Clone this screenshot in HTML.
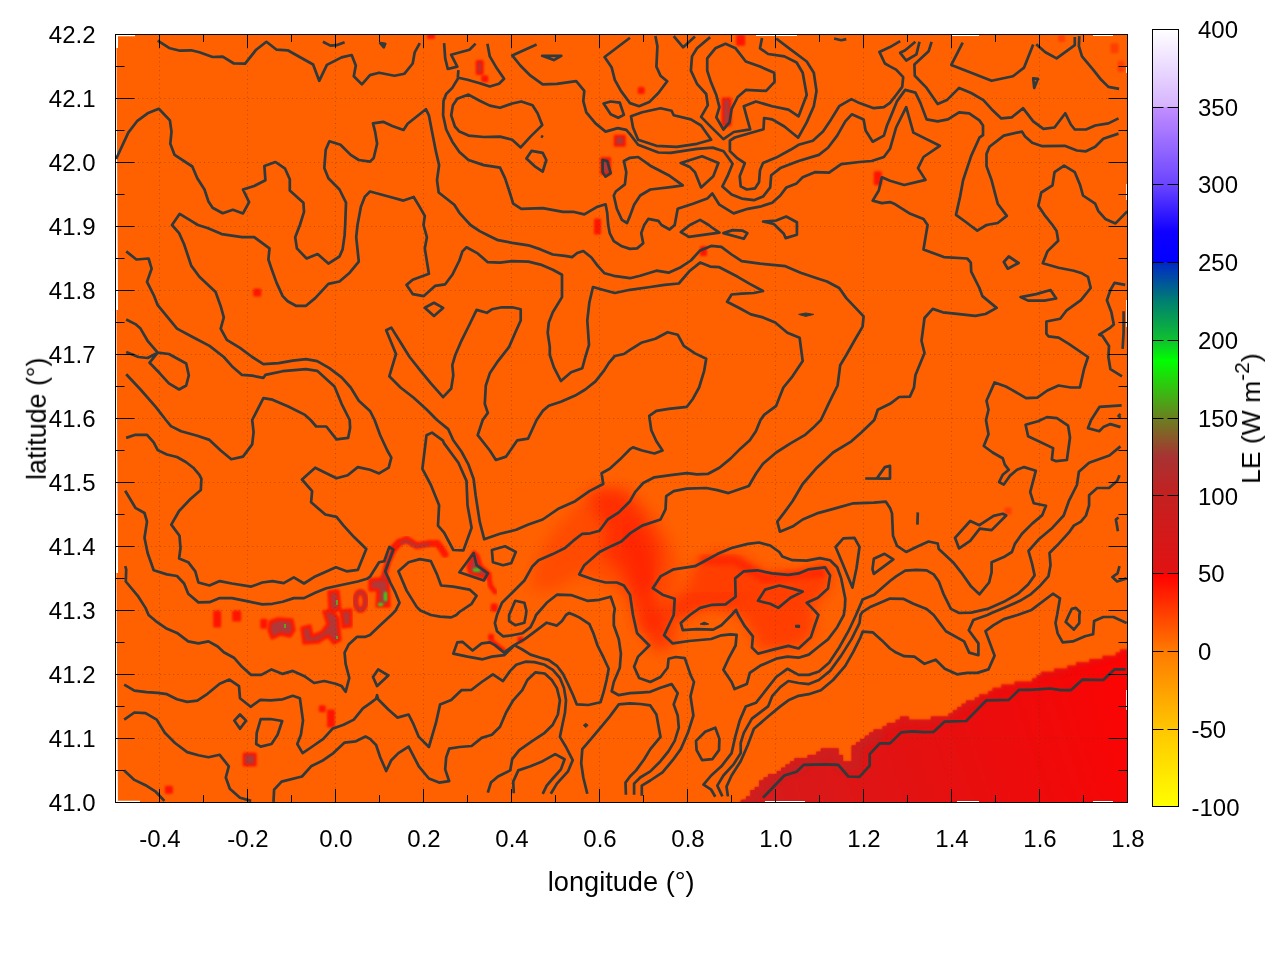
<!DOCTYPE html>
<html lang="en"><head><meta charset="utf-8"><title>LE (W m-2) map</title>
<style>html,body{margin:0;padding:0;background:#fff;width:1280px;height:960px;overflow:hidden}svg{display:block}</style>
</head><body>
<svg width="1280" height="960" viewBox="0 0 1280 960">
<defs>
<linearGradient id="cb" x1="0" y1="1" x2="0" y2="0">
<stop offset="0" stop-color="#ffff00"/>
<stop offset="0.1" stop-color="#ffc600"/>
<stop offset="0.2" stop-color="#ff7a00"/>
<stop offset="0.3" stop-color="#ff0000"/>
<stop offset="0.301" stop-color="#e21212"/>
<stop offset="0.4" stop-color="#c42020"/>
<stop offset="0.45" stop-color="#a83232"/>
<stop offset="0.5" stop-color="#6a8020"/>
<stop offset="0.574" stop-color="#00ff00"/>
<stop offset="0.6" stop-color="#10c030"/>
<stop offset="0.65" stop-color="#008070"/>
<stop offset="0.7" stop-color="#0028c8"/>
<stop offset="0.701" stop-color="#0000ff"/>
<stop offset="0.74" stop-color="#1000ff"/>
<stop offset="0.8" stop-color="#6a44ff"/>
<stop offset="0.9" stop-color="#c28eff"/>
<stop offset="0.901" stop-color="#d6b4ff"/>
<stop offset="1" stop-color="#ffffff"/>
</linearGradient>
<clipPath id="pc"><rect x="116" y="35" width="1011" height="767"/></clipPath>
</defs>
<rect width="1280" height="960" fill="#fff"/>
<g clip-path="url(#pc)">
<rect x="116" y="35" width="1011" height="767" fill="#ff6100"/>
<defs>
<filter color-interpolation-filters="sRGB" id="b1" x="-20%" y="-20%" width="140%" height="140%"><feGaussianBlur stdDeviation="1.1"/></filter>
<filter color-interpolation-filters="sRGB" id="b2" x="-30%" y="-30%" width="160%" height="160%"><feGaussianBlur stdDeviation="2.5"/></filter>
<filter color-interpolation-filters="sRGB" id="b6" x="-30%" y="-30%" width="160%" height="160%"><feGaussianBlur stdDeviation="7"/></filter>
<filter color-interpolation-filters="sRGB" id="b12" x="-40%" y="-40%" width="180%" height="180%"><feGaussianBlur stdDeviation="12"/></filter>
<linearGradient id="rg" gradientUnits="userSpaceOnUse" x1="780" y1="800" x2="1120" y2="690">
<stop offset="0" stop-color="#d81a1a"/><stop offset="0.45" stop-color="#e61010"/><stop offset="0.8" stop-color="#f20909"/><stop offset="1" stop-color="#fb0404"/>
</linearGradient>
<clipPath id="rc"><polygon points="741.7,799.8 746.1,799.8 746.1,796.6 750.5,796.6 750.5,790.2 754.9,790.2 754.9,787.0 759.3,787.0 759.3,780.6 763.7,780.6 763.7,777.4 768.1,777.4 768.1,774.2 772.5,774.2 772.5,774.2 776.9,774.2 776.9,771.0 781.3,771.0 781.3,767.8 785.7,767.8 785.7,764.6 790.1,764.6 790.1,761.4 794.5,761.4 794.5,758.2 798.9,758.2 798.9,758.2 803.3,758.2 803.3,758.2 807.7,758.2 807.7,755.0 812.1,755.0 812.1,755.0 816.5,755.0 816.5,751.8 820.9,751.8 820.9,748.6 825.3,748.6 825.3,748.6 829.7,748.6 829.7,748.6 834.1,748.6 834.1,748.6 838.5,748.6 838.5,755.0 842.9,755.0 842.9,761.4 847.3,761.4 847.3,761.4 851.7,761.4 851.7,745.4 856.1,745.4 856.1,742.2 860.5,742.2 860.5,739.0 864.9,739.0 864.9,735.8 869.3,735.8 869.3,732.6 873.7,732.6 873.7,729.4 878.1,729.4 878.1,729.4 882.5,729.4 882.5,726.2 886.9,726.2 886.9,723.0 891.3,723.0 891.3,723.0 895.7,723.0 895.7,719.8 900.1,719.8 900.1,716.6 904.5,716.6 904.5,716.6 908.9,716.6 908.9,719.8 913.3,719.8 913.3,719.8 917.7,719.8 917.7,719.8 922.1,719.8 922.1,719.8 926.5,719.8 926.5,719.8 930.9,719.8 930.9,716.6 935.3,716.6 935.3,716.6 939.7,716.6 939.7,716.6 944.1,716.6 944.1,716.6 948.5,716.6 948.5,713.4 952.9,713.4 952.9,710.2 957.3,710.2 957.3,707.0 961.7,707.0 961.7,703.8 966.1,703.8 966.1,700.6 970.5,700.6 970.5,700.6 974.9,700.6 974.9,697.4 979.3,697.4 979.3,694.2 983.7,694.2 983.7,694.2 988.1,694.2 988.1,691.0 992.5,691.0 992.5,687.8 996.9,687.8 996.9,687.8 1001.3,687.8 1001.3,684.6 1005.7,684.6 1005.7,684.6 1010.1,684.6 1010.1,684.6 1014.5,684.6 1014.5,681.4 1018.9,681.4 1018.9,681.4 1023.3,681.4 1023.3,681.4 1027.7,681.4 1027.7,681.4 1032.1,681.4 1032.1,678.2 1036.5,678.2 1036.5,675.0 1040.9,675.0 1040.9,671.8 1045.3,671.8 1045.3,671.8 1049.7,671.8 1049.7,671.8 1054.1,671.8 1054.1,668.6 1058.5,668.6 1058.5,668.6 1062.9,668.6 1062.9,668.6 1067.3,668.6 1067.3,665.4 1071.7,665.4 1071.7,665.4 1076.1,665.4 1076.1,662.2 1080.5,662.2 1080.5,662.2 1084.9,662.2 1084.9,662.2 1089.3,662.2 1089.3,659.0 1093.7,659.0 1093.7,659.0 1098.1,659.0 1098.1,659.0 1102.5,659.0 1102.5,655.8 1106.9,655.8 1106.9,655.8 1111.3,655.8 1111.3,655.8 1115.7,655.8 1115.7,652.6 1120.1,652.6 1120.1,649.4 1124.5,649.4 1124.5,649.4 1128.9,649.4 1128.9,646.2 1130.0,646.2 1130.0,810.0 735.0,810.0"/></clipPath>
</defs>
<polygon points="535.0,565.0 550.0,535.0 590.0,490.0 627.5,487.5 655.0,515.0 675.0,550.0 680.0,580.0 670.0,600.0 680.0,640.0 660.0,655.0 637.5,630.0 625.0,595.0 602.5,580.0 580.0,575.0 555.0,590.0 530.0,590.0" fill="#ff2a00" opacity="0.38" filter="url(#b6)"/>
<polygon points="592.5,490.0 620.0,490.0 640.0,512.5 660.0,545.0 660.0,570.0 652.5,590.0 660.0,615.0 670.0,640.0 655.0,647.5 640.0,615.0 630.0,590.0 620.0,570.0 602.5,552.5 607.5,527.5 592.5,510.0" fill="#ff1c00" opacity="0.6" filter="url(#b6)"/>
<polygon points="693.8,563.0 718.8,550.6 743.8,556.9 765.6,572.5 796.9,575.6 821.9,563.0 834.4,563.0 828.0,591.0 812.5,607.0 815.6,628.8 800.0,647.5 759.4,650.6 746.9,622.5 731.2,610.0 706.2,607.0 675.0,622.5 668.8,603.8 687.5,585.0" fill="#ff2600" opacity="0.58" filter="url(#b6)"/>
<path d="M628 530L640 560L648 590" stroke="#ff1400" stroke-width="12" fill="none" opacity="0.45" filter="url(#b6)"/>
<path d="M700 560L735 560L765 578L825 572" stroke="#ff1000" stroke-width="10" fill="none" opacity="0.5" filter="url(#b2)"/>
<path d="M640 625L700 600L740 600" stroke="#ff1a00" stroke-width="12" fill="none" opacity="0.4" filter="url(#b6)"/>
<polygon points="741.7,799.8 746.1,799.8 746.1,796.6 750.5,796.6 750.5,790.2 754.9,790.2 754.9,787.0 759.3,787.0 759.3,780.6 763.7,780.6 763.7,777.4 768.1,777.4 768.1,774.2 772.5,774.2 772.5,774.2 776.9,774.2 776.9,771.0 781.3,771.0 781.3,767.8 785.7,767.8 785.7,764.6 790.1,764.6 790.1,761.4 794.5,761.4 794.5,758.2 798.9,758.2 798.9,758.2 803.3,758.2 803.3,758.2 807.7,758.2 807.7,755.0 812.1,755.0 812.1,755.0 816.5,755.0 816.5,751.8 820.9,751.8 820.9,748.6 825.3,748.6 825.3,748.6 829.7,748.6 829.7,748.6 834.1,748.6 834.1,748.6 838.5,748.6 838.5,755.0 842.9,755.0 842.9,761.4 847.3,761.4 847.3,761.4 851.7,761.4 851.7,745.4 856.1,745.4 856.1,742.2 860.5,742.2 860.5,739.0 864.9,739.0 864.9,735.8 869.3,735.8 869.3,732.6 873.7,732.6 873.7,729.4 878.1,729.4 878.1,729.4 882.5,729.4 882.5,726.2 886.9,726.2 886.9,723.0 891.3,723.0 891.3,723.0 895.7,723.0 895.7,719.8 900.1,719.8 900.1,716.6 904.5,716.6 904.5,716.6 908.9,716.6 908.9,719.8 913.3,719.8 913.3,719.8 917.7,719.8 917.7,719.8 922.1,719.8 922.1,719.8 926.5,719.8 926.5,719.8 930.9,719.8 930.9,716.6 935.3,716.6 935.3,716.6 939.7,716.6 939.7,716.6 944.1,716.6 944.1,716.6 948.5,716.6 948.5,713.4 952.9,713.4 952.9,710.2 957.3,710.2 957.3,707.0 961.7,707.0 961.7,703.8 966.1,703.8 966.1,700.6 970.5,700.6 970.5,700.6 974.9,700.6 974.9,697.4 979.3,697.4 979.3,694.2 983.7,694.2 983.7,694.2 988.1,694.2 988.1,691.0 992.5,691.0 992.5,687.8 996.9,687.8 996.9,687.8 1001.3,687.8 1001.3,684.6 1005.7,684.6 1005.7,684.6 1010.1,684.6 1010.1,684.6 1014.5,684.6 1014.5,681.4 1018.9,681.4 1018.9,681.4 1023.3,681.4 1023.3,681.4 1027.7,681.4 1027.7,681.4 1032.1,681.4 1032.1,678.2 1036.5,678.2 1036.5,675.0 1040.9,675.0 1040.9,671.8 1045.3,671.8 1045.3,671.8 1049.7,671.8 1049.7,671.8 1054.1,671.8 1054.1,668.6 1058.5,668.6 1058.5,668.6 1062.9,668.6 1062.9,668.6 1067.3,668.6 1067.3,665.4 1071.7,665.4 1071.7,665.4 1076.1,665.4 1076.1,662.2 1080.5,662.2 1080.5,662.2 1084.9,662.2 1084.9,662.2 1089.3,662.2 1089.3,659.0 1093.7,659.0 1093.7,659.0 1098.1,659.0 1098.1,659.0 1102.5,659.0 1102.5,655.8 1106.9,655.8 1106.9,655.8 1111.3,655.8 1111.3,655.8 1115.7,655.8 1115.7,652.6 1120.1,652.6 1120.1,649.4 1124.5,649.4 1124.5,649.4 1128.9,649.4 1128.9,646.2 1130.0,646.2 1130.0,810.0 735.0,810.0" fill="url(#rg)" filter="url(#b1)"/>
<g clip-path="url(#rc)"><path d="M741.7 803.0L751.9 791.7L760.0 782.6L772.2 774.5L784.4 766.3L792.5 761.3L794.5 755.2L798.6 761.3L804.7 757.2L823.0 750.0L829.0 748.0L837.2 750.0L843.3 761.3L851.4 761.3L853.4 745.0L863.6 736.9L873.7 731.8L890.0 724.0L902.2 717.6L920.5 719.6L946.9 716.6L957.0 707.4L979.4 696.3L1001.7 685.0L1032.2 680.0L1038.3 673.9L1062.7 668.8L1072.8 664.8L1097.2 658.7L1113.4 654.6L1130.0 647.0" stroke="#c02828" stroke-width="18" fill="none" opacity="0.8" filter="url(#b2)" stroke-dasharray="190 2000"/>
<path d="M741.7 803.0L751.9 791.7L760.0 782.6L772.2 774.5L784.4 766.3L792.5 761.3L794.5 755.2L798.6 761.3L804.7 757.2L823.0 750.0L829.0 748.0L837.2 750.0L843.3 761.3L851.4 761.3L853.4 745.0L863.6 736.9L873.7 731.8L890.0 724.0L902.2 717.6L920.5 719.6L946.9 716.6L957.0 707.4L979.4 696.3L1001.7 685.0L1032.2 680.0L1038.3 673.9L1062.7 668.8L1072.8 664.8L1097.2 658.7L1113.4 654.6L1130.0 647.0" stroke="#d41c1c" stroke-width="14" fill="none" opacity="0.55" filter="url(#b2)" stroke-dasharray="300 2000"/>
<path d="M741.7 803.0L751.9 791.7L760.0 782.6L772.2 774.5L784.4 766.3L792.5 761.3L794.5 755.2L798.6 761.3L804.7 757.2L823.0 750.0L829.0 748.0L837.2 750.0L843.3 761.3L851.4 761.3L853.4 745.0L863.6 736.9L873.7 731.8L890.0 724.0L902.2 717.6L920.5 719.6L946.9 716.6L957.0 707.4L979.4 696.3L1001.7 685.0L1032.2 680.0L1038.3 673.9L1062.7 668.8L1072.8 664.8L1097.2 658.7L1113.4 654.6L1130.0 647.0" stroke="#dc1818" stroke-width="7" fill="none" opacity="0.5" filter="url(#b2)"/></g>
<rect x="475.7" y="60.1" width="8.0" height="15.0" rx="1.5" fill="#ff1400" filter="url(#b1)"/>
<rect x="478.2" y="62.6" width="3.0" height="10.0" rx="1" fill="#a83c3c" filter="url(#b1)"/>
<rect x="481.3" y="75.3" width="7.0" height="7.0" rx="1.5" fill="#ff1400" filter="url(#b1)"/>
<rect x="613.8" y="134.7" width="12.0" height="12.0" rx="1.5" fill="#ff1400" filter="url(#b1)"/>
<rect x="616.3" y="137.2" width="7.0" height="7.0" rx="1" fill="#a83c3c" filter="url(#b1)"/>
<rect x="600.1" y="157.1" width="11.0" height="18.0" rx="1.5" fill="#ff1400" filter="url(#b1)"/>
<rect x="602.6" y="159.6" width="6.0" height="13.0" rx="1" fill="#a83c3c" filter="url(#b1)"/>
<rect x="594.0" y="218.5" width="7.0" height="16.0" rx="1.5" fill="#ff1400" filter="url(#b1)"/>
<rect x="427.0" y="33.0" width="8.0" height="6.0" rx="1.5" fill="#ff1400" filter="url(#b1)"/>
<rect x="736.2" y="34.7" width="9.0" height="11.0" rx="1.5" fill="#ff1400" filter="url(#b1)"/>
<rect x="637.7" y="87.0" width="7.0" height="7.0" rx="1.5" fill="#ff1400" filter="url(#b1)"/>
<rect x="721.5" y="97.5" width="10.0" height="29.0" rx="1.5" fill="#ff1400" filter="url(#b1)"/>
<rect x="724.0" y="100.0" width="5.0" height="24.0" rx="1" fill="#a83c3c" filter="url(#b1)"/>
<rect x="873.8" y="171.3" width="8.0" height="14.0" rx="1.5" fill="#ff1400" filter="url(#b1)"/>
<rect x="1110.5" y="43.3" width="8.0" height="10.0" rx="1.5" fill="#ff1400" filter="url(#b1)" opacity="0.45"/>
<rect x="1058.1" y="35.0" width="7.0" height="7.0" rx="1.5" fill="#ff1400" filter="url(#b1)" opacity="0.45"/>
<rect x="1117.5" y="61.1" width="7.0" height="11.0" rx="1.5" fill="#ff1400" filter="url(#b1)" opacity="0.45"/>
<rect x="1004.5" y="507.5" width="7.0" height="7.0" rx="1.5" fill="#ff1400" filter="url(#b1)" opacity="0.45"/>
<rect x="253.3" y="288.6" width="8.0" height="8.0" rx="1.5" fill="#ff1400" filter="url(#b1)"/>
<rect x="700.0" y="246.0" width="7.0" height="10.0" rx="1.5" fill="#ff1400" filter="url(#b1)"/>
<rect x="242.7" y="752.6" width="14.0" height="14.0" rx="1.5" fill="#ff1400" filter="url(#b1)"/>
<rect x="245.2" y="755.1" width="9.0" height="9.0" rx="1" fill="#a83c3c" filter="url(#b1)"/>
<rect x="164.9" y="785.7" width="8.0" height="8.0" rx="1.5" fill="#ff1400" filter="url(#b1)"/>
<rect x="318.8" y="705.3" width="7.0" height="7.0" rx="1.5" fill="#ff1400" filter="url(#b1)"/>
<rect x="327.0" y="709.6" width="8.0" height="18.0" rx="1.5" fill="#ff1400" filter="url(#b1)"/>
<rect x="213.2" y="610.5" width="8.0" height="17.0" rx="1.5" fill="#ff1400" filter="url(#b1)"/>
<rect x="232.2" y="610.5" width="9.0" height="11.0" rx="1.5" fill="#ff1400" filter="url(#b1)"/>
<rect x="260.3" y="618.8" width="7.0" height="10.0" rx="1.5" fill="#ff1400" filter="url(#b1)"/>
<rect x="490.7" y="603.5" width="7.0" height="8.0" rx="1.5" fill="#ff1400" filter="url(#b1)"/>
<rect x="488.0" y="634.0" width="6.0" height="6.0" rx="1.5" fill="#ff1400" filter="url(#b1)"/>
<rect x="517.5" y="636.5" width="6.0" height="6.0" rx="1.5" fill="#ff1400" filter="url(#b1)"/>
<polygon points="270.0,622.0 278.0,619.0 292.0,620.0 294.0,630.0 290.0,636.0 281.0,634.0 272.0,638.0 269.0,630.0" fill="#b03838" stroke="#ff1800" stroke-width="3.5" stroke-linejoin="round" filter="url(#b1)"/>
<polygon points="302.0,628.0 310.0,626.0 312.0,636.0 322.0,632.0 328.0,624.0 324.0,612.0 332.0,610.0 338.0,618.0 340.0,640.0 334.0,643.0 328.0,636.0 318.0,642.0 304.0,643.0" fill="#b03838" stroke="#ff1800" stroke-width="3.5" stroke-linejoin="round" filter="url(#b1)"/>
<polygon points="329.0,592.0 338.0,591.0 340.0,610.0 330.0,611.0" fill="#b03838" stroke="#ff1800" stroke-width="3.5" stroke-linejoin="round" filter="url(#b1)"/>
<polygon points="341.0,611.0 351.0,610.0 351.0,626.0 343.0,627.0" fill="#b03838" stroke="#ff1800" stroke-width="3.5" stroke-linejoin="round" filter="url(#b1)"/>
<polygon points="370.0,580.0 388.0,578.0 389.0,606.0 377.0,606.0 378.0,590.0 370.0,590.0" fill="#b03838" stroke="#ff1800" stroke-width="3.5" stroke-linejoin="round" filter="url(#b1)"/>
<polygon points="468.0,566.0 474.0,552.0 478.0,556.0 481.0,566.0 489.0,573.0 486.0,578.0 470.0,573.0" fill="#b03838" stroke="#ff1800" stroke-width="3.5" stroke-linejoin="round" filter="url(#b1)"/>
<ellipse cx="360.5" cy="601" rx="5" ry="9" fill="none" stroke="#ff1800" stroke-width="6" filter="url(#b1)"/><ellipse cx="360.5" cy="601" rx="5" ry="9" fill="none" stroke="#b03838" stroke-width="2.5" filter="url(#b1)"/>
<path d="M383 580L388 562L394 549L400 541" stroke="#ff1800" stroke-width="6" fill="none" filter="url(#b1)"/><path d="M383 580L388 562L392 552" stroke="#b03838" stroke-width="2.5" fill="none" filter="url(#b1)"/>
<path d="M393.4 548L400 542L406.7 539.5L416.9 545.8L429.4 543.4L437.2 543.4L441 548L445 554.4" stroke="#ff1800" stroke-width="7" fill="none" stroke-linecap="round" filter="url(#b1)"/><path d="M400 543L406.7 541L416.9 546.5L429.4 544" stroke="#b03838" stroke-width="3" fill="none" filter="url(#b1)"/>
<path d="M488.8 574.7L490.3 585.6L495 591.9" stroke="#ff1800" stroke-width="5" fill="none" stroke-linecap="round" filter="url(#b1)"/>
<path d="M491 640L498 645.5L504 650" stroke="#ff1800" stroke-width="4" fill="none" stroke-linecap="round" filter="url(#b1)"/>
<g fill="#28e018" filter="url(#b1)"><rect x="378" y="603" width="5" height="3"/><rect x="384" y="592" width="3" height="9"/><rect x="473" y="568.5" width="7" height="3"/></g>
<g fill="#6a9a20"><rect x="284" y="624" width="2" height="4"/><rect x="336" y="600" width="2" height="5"/><rect x="336" y="636" width="2" height="3"/></g>
</g>
<path d="M116 35H135V36.2H118V48H116ZM116 48h0.4L118 310H116ZM116 310h0.4L118 573H116ZM116 573h0.4L117.9 802H116ZM756 35h41v1.1h-41ZM951 35h28v1h-28ZM1093 35h20v1h-20ZM118 802h22v-1.2h-22ZM765 802h40v-1.1h-40ZM957 802h22v-1h-22ZM1093 802h20v-1h-20ZM1126.2 66h1.3v7h-1.3ZM1126.2 184h1.3v16h-1.3ZM1126.2 300h1.3v27h-1.3ZM1126.2 690h1.3v20h-1.3Z" fill="#fff"/>
<path d="M159.5 35V802M247.5 35V802M335.5 35V802M423.50000000000006 35V802M511.5 35V802M599.5 35V802M687.5000000000001 35V802M775.5 35V802M863.5000000000001 35V802M951.5 35V802M1039.5 35V802M1127.5 35V802M116 738.5000000000009H1128M116 674.5H1128M116 610.5000000000036H1128M116 546.5000000000027H1128M116 482.5000000000018H1128M116 418.5000000000009H1128M116 354.5H1128M116 290.50000000000364H1128M116 226.50000000000273H1128M116 162.50000000000182H1128M116 98.50000000000091H1128" stroke="#5a3a1a" stroke-opacity="0.45" stroke-width="1" stroke-dasharray="1 3.4" fill="none"/>
<g clip-path="url(#pc)" fill="none" stroke="#30393b" stroke-width="2.7" stroke-linejoin="round" stroke-linecap="butt">
<path d="M157.7 40.6L169.9 48.3L180.1 50.7L191.2 50.3L199.4 52.3L212.6 57.0L222.7 56.6L233.9 63.5L245.1 63.7L256.2 49.7L266.4 41.8L276.6 49.7L287.7 50.3L313.1 64.5L319.2 80.8L326.9 64.9L341.6 57.4L351.7 55.0L355.8 65.5L353.8 76.3L361.9 84.4L370.0 75.1L379.1 72.7L394.4 75.7L404.5 73.7L412.7 63.5L414.7 52.3L419.8 43.2M322.9 41.8L330.4 45.6L336.5 45.2L344.6 42.2M116.1 159.0L128.3 132.6L137.4 120.8L147.6 113.3L158.8 108.8L169.9 120.4L171.5 131.6L170.3 143.8L174.6 154.9L192.3 166.5L197.3 178.3L204.5 189.5L208.5 201.6L212.6 207.7L222.7 213.2L232.9 209.8L243.0 213.4L249.1 202.2L243.0 189.5L254.2 186.0L265.4 180.3L264.4 166.1L275.5 162.0L285.1 168.7L289.8 179.3L289.8 190.5L303.4 202.7L304.0 211.8L299.9 225.0L295.2 237.2L296.9 248.4L306.6 258.5L317.6 254.0L328.4 263.6L339.5 256.5L342.6 249.4L344.6 235.2L345.2 225.0L346.0 202.7L339.5 189.5L328.4 178.3L324.3 168.1L325.7 149.8L329.4 141.3L340.5 144.8L350.7 154.9L358.8 160.0L370.0 161.6L373.7 158.0L377.1 143.8L375.1 131.6L373.0 123.4L383.2 121.8L392.3 125.9L403.5 129.9L407.6 123.8L425.9 109.2L428.9 115.3L432.0 131.6L436.0 151.9L439.1 165.1L437.0 180.3L438.7 192.5L454.3 204.7L459.4 212.8L470.5 225.0L479.7 231.1L487.8 235.2L498.0 240.2L512.2 242.9L528.4 245.3L540.6 249.4L552.8 254.5L565.0 255.9L572.1 257.1L577.2 253.0L583.3 251.0L591.4 257.5L597.5 265.6L604.6 273.3L613.8 275.8L630.0 278.2L640.2 275.8L656.4 270.7L668.6 272.7L680.8 267.2L690.9 260.5L700.1 250.4L711.2 245.9L721.4 246.9L731.6 254.5L741.7 261.2L760.0 263.6L785.4 266.2L800.6 272.7L816.9 278.2L827.0 281.5L839.2 288.0L846.3 298.1L863.6 316.4L862.6 326.6L855.5 338.8L846.3 355.0L840.2 365.2L837.6 385.5L829.1 402.7L820.9 420.0L812.8 428.1L804.7 435.2L790.5 443.4L776.2 452.5L763.0 463.7L755.9 473.8L748.8 486.0L728.5 493.1L717.3 490.1L706.2 488.0L686.9 488.7L673.7 491.1L666.2 496.2L665.5 509.4L660.5 519.5L642.2 525.6L630.0 533.4L621.3 541.5L611.7 545.9L599.5 552.0L584.3 565.2L579.2 574.4L593.4 579.5L605.6 582.5L616.8 582.5L623.9 585.5L630.0 594.7L633.0 615.0L637.1 633.3L649.3 645.5L638.1 656.6L634.1 666.8L639.1 678.0L650.3 682.0L660.5 677.0L667.6 667.8L668.6 658.7L675.7 657.0L684.8 658.1L690.9 675.9L694.0 682.0L690.5 696.2L693.4 715.5L687.9 732.8L680.8 749.1L672.7 760.2L662.5 772.4L650.3 780.5L641.8 785.6L641.8 795.8M126.2 437.9L135.4 434.8L147.0 434.8L153.7 442.3L157.7 450.1L166.9 454.5L177.0 457.0L186.2 462.2L193.3 467.7L199.4 474.8L201.4 478.9L200.8 490.1L190.2 499.2L179.1 511.0L171.3 524.6L179.5 535.8L180.5 548.0L179.1 558.5L188.2 562.2L195.3 571.3L198.4 582.5L209.5 585.5L219.7 581.1L231.9 583.5L251.2 586.6L262.3 582.5L272.5 581.1L283.7 583.1L293.8 577.4L304.0 583.5L315.2 576.4L325.3 571.9L335.9 567.3L346.6 571.3L357.8 569.9L366.3 549.0L353.8 536.8L343.6 525.6L336.5 516.9L325.3 514.5L311.1 502.3L312.1 491.1L302.0 479.5L315.2 467.7L325.3 472.8L336.5 478.3L347.7 475.2L357.8 467.1L370.0 469.8L379.1 473.4L388.7 467.7L391.3 457.6L387.3 450.5L380.2 435.2L374.6 420.0L370.0 410.9L358.8 400.7L350.7 387.5L341.6 377.3L329.4 368.2L317.2 361.1L306.0 359.1L292.8 360.7L278.6 363.1L263.4 364.1L252.2 357.0L240.0 347.9L226.8 339.8L220.7 328.6L223.8 317.4L220.7 306.2L215.6 292.0L199.4 276.8L191.2 265.6L188.2 256.5L184.1 244.3L179.1 233.1L172.0 225.0L179.7 213.8L191.2 220.9L197.9 225.0L207.5 228.0L221.7 234.1L242.0 237.2L254.2 237.2L269.5 248.4L268.4 259.5L271.5 268.7L276.6 282.9L282.7 296.1L287.7 301.2L295.9 305.8L306.0 305.8L315.2 298.1L328.4 283.9L339.5 281.5L349.7 272.7L358.8 261.6L356.2 237.2L357.5 225.0L360.9 206.7L364.9 196.6L370.0 191.5L390.3 197.0L403.5 200.6L413.7 197.0L419.8 207.1L424.8 215.9L423.5 225.0L426.9 237.2L424.8 248.4L428.9 273.8L412.7 279.8L406.6 284.9L412.7 294.1L423.8 296.1L435.0 285.9L445.2 284.3L452.3 274.8L459.4 260.5L462.4 251.4L466.5 247.3L477.7 253.4L487.8 262.2L500.0 262.6L512.2 261.2L528.4 261.6L540.6 264.6L552.8 269.7L562.0 274.8L562.0 297.1L552.8 312.3L548.8 322.5L547.7 332.7L549.8 346.9L549.8 355.0L553.8 367.2L560.9 381.0L571.1 372.3L582.3 368.2L585.3 357.0L589.0 344.8L587.3 320.5L589.4 302.2L593.0 287.0L603.6 290.0L614.8 293.0L630.0 289.8L650.3 287.0L664.5 284.9L678.8 283.5L689.9 270.7L700.1 262.6L710.2 266.6L719.4 267.2L737.7 276.8L749.8 283.9L763.0 291.0L753.9 293.0L741.7 293.7L731.6 294.5L727.1 301.8L739.7 308.3L750.9 314.4L763.0 317.4L775.2 322.5L787.4 332.7L799.6 337.7L802.7 361.1L792.5 376.3L783.4 387.5L779.3 397.7L776.2 405.8L764.1 414.9L760.5 420.0L755.9 431.2L749.8 440.3L740.7 448.4L730.5 458.6L719.4 467.7L708.2 473.8L697.0 474.4L686.9 473.2L670.6 475.2L654.4 477.3L643.2 483.0L635.1 492.1L630.0 501.2L618.8 512.4L607.7 519.5L599.5 530.7L590.4 533.3L582.3 533.8L573.1 540.9L565.0 548.0L552.8 554.1L538.6 560.2L532.5 566.2L524.4 580.5L512.2 592.7L502.0 602.8L497.0 615.0L494.9 623.1L497.0 631.2L503.0 636.3L512.2 635.3L522.3 633.3L530.5 627.2L534.5 619.1L536.1 615.0L546.7 602.8L556.9 594.7L571.1 595.1L587.3 600.8L599.5 599.8L610.7 596.7L614.8 608.9L613.8 615.0L613.8 625.2L618.8 639.4L620.9 653.6L619.8 667.8L613.8 682.0L611.7 691.2L618.8 695.2L630.0 693.2L640.2 692.6L650.3 691.8L660.5 687.7L671.6 684.1L677.7 693.2L673.7 704.4L677.7 715.5L678.8 727.7L674.7 740.9L668.6 751.1L660.5 761.2L650.3 771.4L640.2 777.5L634.1 783.6L634.1 794.8M444.1 43.2L445.2 58.4L447.8 69.0L457.3 66.6L451.2 54.8L469.5 49.7L475.6 43.6M458.4 70.2L457.8 77.9M487.4 43.8L489.8 56.4L497.0 68.6L504.1 78.8L499.0 83.8L489.8 86.5L479.7 83.2L467.5 79.8L458.4 77.7L452.3 87.9L446.2 94.0L443.5 101.1L443.1 115.3L446.2 129.5L452.3 141.7L459.4 151.9L468.5 160.0L483.8 165.1L500.0 167.7L505.1 178.3L509.1 190.5L513.2 203.7L521.3 208.8L542.7 208.1L563.0 211.8L573.1 211.8L584.3 214.4L597.5 206.7L605.6 204.3L607.2 212.8L608.2 225.0L609.7 233.1L613.8 241.2L621.9 246.3L630.0 248.9L637.1 248.4L643.2 243.3L641.2 233.1L644.2 225.0L648.3 218.9L658.4 220.9L661.5 225.0L669.6 229.5L674.7 225.0L677.7 208.8L693.0 203.7L707.2 198.6L712.3 193.5L719.4 204.7L733.6 213.4L747.8 208.8L760.0 206.7L772.2 202.7L780.3 195.5L786.4 187.4L796.6 183.4L802.7 177.3L814.8 172.2L829.1 172.6L841.2 164.1L859.5 162.0L871.7 161.0L883.9 157.0L890.0 148.8L896.1 127.5L906.2 107.2L913.4 132.6L939.8 145.8L923.5 157.0L918.0 168.1L925.5 179.9L904.2 185.0L890.0 180.8L881.9 177.3L878.8 190.5L872.7 200.6L881.9 203.1L890.0 202.1L894.1 203.7L910.3 213.8L923.5 218.9L927.6 225.0L923.5 249.4L943.8 257.1L967.2 258.5L970.8 262.6L971.2 271.7L979.4 288.0L982.4 296.1L996.6 307.9L985.5 314.0L975.3 315.8L957.0 313.8L942.8 312.3L932.7 308.9L924.5 318.0L921.5 340.8L924.5 353.0L915.4 375.3L914.0 387.5L909.9 396.6L899.1 397.0L890.0 403.8L877.8 409.8L874.3 420.0L861.6 432.2L851.4 441.3L833.1 452.5L816.9 467.7L802.7 484.0L792.5 501.2L784.4 512.4L777.3 521.6L779.9 531.7L792.5 526.6L802.7 519.5L816.9 513.4L835.2 508.4L853.4 503.3L873.8 502.7L885.9 501.7L890.0 507.9L892.0 513.4L893.0 535.8L897.1 545.9L906.2 552.0L916.4 547.0L928.6 541.5L937.7 543.5L938.8 549.0L953.0 562.2L961.1 572.3L971.2 586.6L979.4 594.3L989.1 582.5L991.6 572.3L991.6 562.2L1003.8 557.1L1011.9 552.0L1014.9 543.9L1022.0 533.8L1032.2 523.6L1042.3 515.1L1046.0 505.7L1033.8 503.3L1030.2 492.1L1035.8 470.8L1024.1 467.1L1017.0 469.8L1009.8 475.9L1003.8 484.6L999.1 482.0L1002.7 474.8L1008.8 469.8L1004.8 464.7L1002.7 458.2L992.6 452.5L983.8 446.0L988.5 434.2L986.0 420.0L988.5 409.8L986.5 400.7L994.6 382.4L1005.8 386.5L1011.9 389.9L1026.1 398.1L1037.3 397.7L1047.4 390.5L1058.6 385.5L1070.8 387.5L1079.9 387.5L1084.0 369.2L1088.0 357.0L1068.8 343.8L1058.6 337.7L1048.4 336.3L1046.4 333.7L1046.4 321.5L1060.2 318.8L1066.7 310.3L1080.9 300.2L1090.7 288.0L1088.0 276.8L1082.0 273.3L1073.8 270.7L1058.6 267.7L1042.8 263.2L1047.4 251.4L1058.2 240.8L1056.6 231.1L1052.5 225.0L1044.4 214.8L1038.3 205.7L1041.3 192.5L1052.5 185.4L1054.5 172.2L1064.1 165.7L1074.8 172.2L1079.9 184.4L1083.0 195.5L1095.2 203.7L1098.2 210.8L1105.3 218.9L1115.5 223.4L1127.2 211.4M541.0 136.0L543.1 137.2M536.6 44.6L512.2 55.4L520.3 65.5L530.5 75.7L542.7 84.4L556.9 83.8L576.2 81.2L584.3 90.9L583.3 101.1L586.3 112.3L595.5 123.4L605.6 131.6L617.8 128.1L626.3 129.9L630.0 134.1L638.1 144.8L658.4 152.5L670.6 152.9L697.0 148.8L712.7 147.6L723.6 151.3L732.6 163.7L727.5 176.2L722.4 186.4L731.6 194.5L741.7 198.6L753.9 200.2L763.0 196.6L770.2 187.4L771.2 175.2L780.3 168.1L798.6 161.0L818.9 154.9L828.0 147.8L837.2 135.6L845.3 121.4L851.8 114.3L863.6 119.4L865.6 130.5L872.7 141.7L883.9 135.6L887.0 125.5L890.0 118.4L897.1 101.1L905.2 89.9L915.4 92.6L920.5 103.1L926.6 119.4L937.7 121.4L947.9 119.4L959.1 112.3L969.2 113.3L979.4 120.4L983.0 125.5L983.0 135.2L979.4 137.7L971.2 155.9L963.1 180.3L960.1 196.6L956.0 214.8L967.2 223.0L969.7 225.0L977.3 230.7L986.5 225.0L997.7 223.0L1006.8 215.9L997.7 203.7L991.6 180.3L986.5 166.1L986.5 153.9L989.5 146.8L1003.8 135.6L1022.0 131.6L1025.1 136.6L1032.2 142.7L1042.3 146.2L1064.7 145.8L1076.9 150.5L1086.0 151.3L1095.2 146.8L1103.3 138.7L1118.5 133.6M630.0 37.7L604.6 57.0L611.7 67.6L614.8 79.8L620.9 90.9L630.0 103.1L639.1 106.2L649.3 102.1L658.4 93.0L667.2 81.2L660.5 75.7L656.4 66.6L657.4 46.2L655.4 36.1M630.0 157.8L623.9 161.0L626.3 172.2L624.9 184.4L615.8 191.5L613.8 195.5L616.8 208.8L621.9 219.9L627.0 223.0L630.0 215.9L634.1 204.7L640.2 195.5L650.3 189.5L672.7 186.8L682.8 185.4L668.6 175.2L650.3 165.7L638.1 157.0L630.0 157.8ZM673.7 36.1L683.2 47.3L695.0 36.5M710.2 37.1L697.0 48.3L692.0 56.4L690.9 70.6L697.0 83.8L706.2 94.0L707.8 105.2L701.1 116.9L711.2 127.1L723.4 139.1L733.8 132.0L750.2 129.3L746.8 117.3L743.8 106.2L755.9 101.5L772.2 106.2L788.4 109.6L798.6 116.3L806.7 95.0L802.7 72.7L796.6 62.5L784.4 56.4L768.1 54.0L760.0 48.3L762.0 38.1M776.2 38.5L790.5 49.3L806.7 61.5L813.8 72.7L816.5 90.9L813.8 106.2L806.7 122.4L798.2 137.7L784.4 126.5L772.2 119.4L764.1 118.0L763.5 129.3L734.8 137.5L729.9 140.7L729.9 151.1L736.8 157.8L744.8 163.2L739.7 176.2L740.7 186.4L746.8 189.5L754.9 188.4L759.0 182.3L760.0 170.2L763.0 163.0L776.2 157.6L790.5 149.8L798.6 144.8L812.8 140.7L823.0 131.6L831.1 119.4L839.2 106.2L851.4 99.1L859.5 103.1L873.8 108.2L883.9 107.2L890.0 102.9L896.1 95.0L902.2 86.9L903.2 77.1L896.1 69.6L890.0 66.4L884.9 63.5L879.4 51.9L890.0 47.1L900.2 41.2M689.9 225.0L700.1 219.9L708.7 225.0L711.2 227.0L719.4 232.7L688.9 236.8L680.8 232.1L689.9 225.0ZM834.1 38.5L841.2 40.2L846.3 39.1M915.4 41.8L905.2 50.3L900.2 52.8L906.2 60.5L916.4 54.4L919.5 41.8M931.6 41.8L928.6 51.3L914.4 64.5L914.8 75.7L926.6 87.9L937.7 104.1L946.9 100.1L959.1 87.9L971.2 93.0L983.4 100.1L991.6 109.2L1001.3 118.4L1011.9 117.3L1023.0 108.2L1033.2 121.4L1043.4 128.9L1054.5 127.5L1065.3 113.3L1070.8 124.5L1074.8 129.5L1086.0 129.5L1095.2 125.5L1108.4 123.4L1118.5 118.4M962.7 42.6L951.3 64.9L971.2 72.7L991.6 80.8L1012.9 76.3L1024.1 67.6L1033.2 44.6M1036.2 44.2L1045.4 52.3L1056.6 58.4L1074.8 45.2L1074.8 37.1M1079.3 36.1L1078.9 46.2L1082.0 56.4L1093.1 69.6L1101.2 79.8L1108.4 86.9L1119.1 88.9M126.2 251.4L136.4 259.5L148.6 258.5L151.6 268.7L147.0 281.9L153.7 295.1L157.7 305.2L177.0 328.6L191.2 336.3L209.5 345.9L223.8 357.0L231.9 366.2L242.0 374.9L252.2 375.7L263.4 377.8L265.4 374.9L282.7 371.2L306.0 369.2L317.2 370.8L334.5 386.5L341.6 403.8L349.7 420.0L350.1 428.1L348.1 437.9L336.5 439.3L326.3 426.5L316.2 426.5L310.6 420.0L305.0 414.9L288.8 406.8L272.5 399.7L263.4 398.1L252.2 420.0L253.6 432.2L252.2 444.4L243.0 456.6L231.3 459.2L220.7 450.5L209.5 439.9L197.3 435.8L181.1 431.2L170.9 426.1L165.9 420.0L155.7 406.8L140.5 389.5L126.2 374.3M126.2 319.5L135.4 324.1L140.5 328.6L147.6 340.8L157.7 352.6L149.6 362.7L159.8 373.3L168.9 383.4L179.1 389.5L186.2 385.5L188.8 375.3L186.2 363.5L168.9 354.0L157.7 352.6L147.6 358.0L138.4 357.0L126.2 352.0M630.0 449.2L619.8 459.6L609.7 468.8L601.6 473.2L603.2 484.0L589.4 491.1L575.2 501.2L558.9 508.4L542.7 519.5L528.4 524.6L516.2 529.7L500.0 533.8L484.2 539.2L479.7 521.6L475.6 495.2L473.6 478.9L468.5 464.7L461.4 451.5L453.3 440.3L448.2 429.1L437.0 420.0L426.9 409.8L413.7 397.7L400.5 387.5L389.3 376.3L396.0 354.0L386.2 330.2L391.3 327.6L399.5 340.8L409.6 357.0L420.8 371.2L430.9 383.4L443.1 397.2L451.2 388.5L453.3 375.3L452.3 365.2L455.3 355.0L461.4 340.8L469.5 324.5L476.6 309.9L486.8 312.8L491.9 309.3L502.0 307.3L512.2 307.3L520.7 309.3L520.7 320.5L515.2 332.7L509.1 346.9L498.0 361.1L489.8 373.3L485.8 385.5L484.8 403.8L487.8 412.9L482.7 420.0L477.7 435.2L489.8 450.5L495.9 460.0L506.1 456.6L517.3 440.3L528.0 438.7L536.6 420.0L542.7 410.9L548.8 405.8L560.9 401.7L575.2 395.6L585.3 389.5L595.5 381.4L603.6 371.2L608.7 363.1L614.8 356.0L623.9 354.0L630.0 349.9L641.2 342.8L655.4 338.8L667.6 332.2L677.7 334.7L683.8 345.9L695.0 353.4L706.2 358.7L704.1 371.2L699.1 387.5L693.0 398.7L686.9 406.8L668.6 408.8L656.4 410.9L649.3 415.9L649.8 420.0L651.3 430.2L656.4 441.3L662.5 450.5L654.4 453.5L642.2 450.5L633.0 447.4L630.0 449.2ZM1125.2 284.9L1114.5 282.9L1110.4 290.0L1106.9 300.2L1111.4 312.3L1113.8 324.5L1110.4 327.6L1099.2 334.7L1102.3 335.7L1109.0 345.9L1108.4 357.0L1110.4 369.2L1122.0 376.3M1123.6 311.3L1123.6 332.7L1122.6 348.9M1120.5 427.1L1110.4 424.1L1103.3 427.1L1099.2 431.2L1088.0 428.1L1091.1 420.0L1099.6 406.8L1121.6 405.4M1120.5 413.9L1118.5 415.9L1120.5 418.0M125.2 490.7L135.4 507.8L144.5 513.0L147.0 521.6L144.5 537.8L147.6 553.0L153.7 570.3L166.9 574.4L177.0 576.0L184.1 583.5L188.2 593.7L198.4 602.4L209.5 602.2L219.7 598.1L231.9 598.1L248.1 601.4L262.3 604.4L272.5 603.8L282.7 601.8L293.8 598.1L304.0 598.1L315.2 592.7L326.3 588.2L343.6 584.5L357.8 581.5L367.0 578.8L370.0 576.7L379.1 562.2L384.2 561.2L389.3 547.0L393.4 549.6L385.2 571.3L390.3 582.5L395.4 592.7L399.5 602.8L395.4 610.9L391.3 615.0L380.2 625.2L370.0 634.9L364.9 636.9L356.8 636.9L348.7 644.5L344.6 652.6L345.6 663.8L349.3 678.0L345.6 691.8L341.6 686.1L335.5 683.7L324.3 681.0L314.1 683.0L304.0 675.9L292.8 670.9L282.7 673.9L271.5 669.4L261.3 674.9L251.2 674.9L242.0 666.8L233.9 657.7L223.8 652.2L217.7 646.5L208.5 641.4L198.4 643.4L188.2 641.4L177.0 632.9L165.9 628.2L155.7 621.1L148.6 615.0L145.5 607.9L138.4 596.7L125.8 581.5L126.2 569.3L125.2 566.2M430.9 615.0L420.4 610.5L416.7 606.9L406.6 590.6L398.4 571.3L408.6 562.2L419.8 559.1L430.9 561.2L437.0 574.4L441.1 585.5L453.3 586.6L469.5 589.6L476.6 595.7L471.6 603.8L459.4 612.0L456.3 615.0L451.2 617.4L440.1 616.6L430.9 615.0ZM509.1 615.0L515.2 600.8L524.4 602.8L526.4 610.9L525.9 615.0L524.4 622.7L515.2 625.2L509.1 621.1L509.1 615.0ZM514.2 645.1L504.1 652.6L494.9 645.1L489.8 642.4L481.7 643.4L472.6 650.5L462.4 641.8L457.3 642.4L453.3 653.6L467.5 656.6L482.7 659.3L491.9 656.6L504.1 655.2L512.2 647.5L514.2 645.1L524.4 639.4L532.5 633.3L546.7 622.7L556.9 625.6L562.0 621.1L566.0 615.0L569.1 613.0L574.1 615.0L579.2 617.4L589.4 624.1L593.4 633.3L597.5 645.5L603.6 657.7L608.7 668.8L606.6 680.0L603.6 692.2L600.5 702.3L588.4 705.0L576.8 704.4L573.1 695.2L568.0 684.1L563.0 673.9L556.9 665.8L548.8 660.1L540.6 657.7L530.5 654.6L522.3 649.5L514.2 645.1ZM865.2 478.5L890.0 478.6L890.0 465.9L884.9 467.1L876.8 478.5M673.7 615.0L674.7 598.8L662.5 594.7L652.8 588.2L660.5 576.4L673.7 569.3L695.0 566.2L706.2 560.2L717.3 554.1L731.6 548.0L747.8 543.9L759.0 542.5L770.2 545.5L779.3 552.0L782.3 556.5L792.5 560.2L806.7 560.6L819.9 558.1L830.1 560.2L837.2 567.3L841.2 578.4L845.3 598.8L844.9 606.9L843.8 615.0L837.2 627.2L828.0 639.4L818.9 646.5L808.8 654.6L798.6 657.7L787.4 656.6L776.2 658.7L760.0 665.8L749.8 672.9L746.8 684.1L734.6 689.1L731.6 682.0L723.4 669.8L728.5 658.7L735.6 645.5L736.6 634.9L730.5 634.3L721.4 635.3L711.2 639.0L688.9 641.0L672.7 643.4L664.1 635.3L673.7 615.0ZM738.2 615.0L736.0 609.9L731.6 615.0L721.4 625.2L713.3 629.6L697.0 629.2L682.8 630.2L680.8 623.1L689.9 615.0L700.1 607.9L712.3 604.8L725.5 604.4L735.6 596.7L735.2 578.4L743.8 571.3L757.0 570.3L772.2 573.4L788.4 574.8L798.6 573.4L808.8 569.3L825.0 567.3L830.1 575.4L828.0 588.6L817.9 597.7L806.7 602.8L813.8 609.9L818.4 615.0L814.8 625.2L810.8 637.3L798.6 648.5L788.4 645.9L772.2 649.9L758.0 653.6L751.9 647.5L752.9 636.3L744.8 626.2L738.2 615.0ZM715.3 796.8L711.2 789.7L703.5 784.6L711.2 775.5L721.4 766.3L731.6 753.1L735.2 736.9L739.7 720.6L745.8 706.4L755.9 702.8L765.1 691.2L776.2 677.0L787.4 668.8L798.6 674.9L808.8 674.9L818.9 671.5L829.1 662.7L839.2 647.5L848.4 631.2L856.0 615.0L862.6 599.6L874.2 594.7L890.0 581.0L896.1 576.4L905.2 570.7L916.4 569.9L926.6 570.3L933.7 574.4L938.8 581.5L943.8 594.7L950.9 608.9L959.1 613.0L971.2 612.6L987.5 608.9L1003.8 601.8L1018.0 593.7L1028.1 584.5L1034.6 575.4L1032.2 564.2L1028.5 551.0L1038.3 539.8L1052.5 527.7L1063.7 515.5L1068.8 501.2L1076.9 485.0L1078.9 471.8L1089.1 462.7L1109.4 455.5L1120.5 446.4M722.4 796.4L717.3 785.6L723.4 775.5L733.6 764.3L740.7 753.1L740.7 743.0L743.8 732.8L751.9 718.6L768.1 706.4L772.2 696.2L780.3 687.1L788.4 681.0L798.6 683.0L808.8 684.1L818.9 680.0L830.1 670.9L841.2 655.6L851.4 639.4L859.5 623.1L860.5 615.0L862.6 611.8L870.9 606.7L890.0 598.6L903.2 598.8L913.4 603.8L926.6 608.9L933.7 615.0L939.8 623.1L945.9 631.2L964.1 641.4L969.2 652.6L978.4 655.2L978.4 643.4L968.8 630.2L973.3 620.1L987.5 615.0L991.6 613.0L1003.8 607.9L1020.0 600.8L1030.2 594.7L1039.3 586.6L1048.4 576.4L1050.5 565.2L1049.5 553.0L1058.6 543.9L1068.8 532.7L1073.8 525.6L1080.9 521.6L1086.0 515.5L1089.1 505.3L1089.1 495.2L1097.2 488.0L1109.0 488.0L1117.1 480.9L1119.5 475.2M917.8 512.4L917.4 524.6M1118.5 517.5L1115.9 519.5L1117.9 531.3M1119.5 566.2L1117.5 573.4L1112.4 577.0L1117.1 581.5L1126.6 578.4M727.9 796.4L726.5 786.6L731.6 775.5L740.7 761.2L747.8 745.0L753.9 728.8L768.1 716.6L780.3 706.4L788.4 700.3L798.6 695.8L808.8 694.2L820.9 690.2L833.1 680.0L845.3 665.8L853.4 651.6L860.5 637.3L862.6 631.7L872.7 632.3L881.9 640.4L890.0 648.5L896.1 652.6L904.2 656.2L914.4 656.6L924.5 663.8L935.7 659.7L944.8 668.8L957.0 674.3L967.2 672.9L977.3 672.9L988.5 669.4L994.6 655.6L985.5 631.2L993.6 625.2L1003.8 619.1L1017.5 615.0L1031.6 609.9L1052.9 593.7L1060.0 598.3L1057.1 615.0L1055.5 623.1L1057.6 633.3L1062.7 642.4L1072.8 641.4L1085.0 636.3L1093.1 634.3L1094.1 621.1L1103.3 617.0L1113.4 617.0L1126.6 623.1M1068.8 615.0L1071.8 608.9L1075.9 607.9L1079.9 612.0L1079.4 615.0L1079.3 623.1L1073.8 629.6L1065.7 622.1L1068.8 615.0ZM124.2 684.7L134.4 690.6L146.6 692.2L157.7 692.8L166.9 694.2L177.0 699.3L187.2 701.9L197.3 700.7L207.5 693.8L219.7 683.7L229.4 679.6L239.0 686.1L240.0 698.3L250.6 706.8L260.3 699.9L270.5 700.3L282.7 699.3L292.8 695.8L299.9 698.3L303.0 720.6L300.9 734.8L297.3 744.0L302.6 753.1L313.1 746.0L323.3 738.9L332.4 728.8L343.6 724.7L353.8 719.6L362.9 708.4L370.0 703.4L376.1 698.7L377.1 695.2L378.1 699.3L388.3 709.5L397.4 717.6L408.6 714.5L413.7 724.7L418.8 736.9L428.9 747.0L436.0 722.7L440.1 704.4L451.2 699.9L461.4 690.2L471.6 689.8L481.7 682.0L492.9 674.3L503.0 681.0L510.2 670.9L516.2 664.8L525.4 661.7L534.5 662.1L544.7 664.8L552.8 669.8L559.9 678.0L564.0 688.1L566.0 700.3L565.0 712.5L562.0 726.7L559.9 736.9L566.0 747.0L572.7 760.2L568.0 771.4L556.9 783.6L550.8 793.8M124.2 719.6L134.4 712.5L145.5 713.1L156.7 719.6L164.8 732.8L175.0 743.0L187.2 752.1L198.4 755.2L208.5 757.2L219.7 754.8L228.8 766.3L225.8 777.5L229.8 788.7L240.0 797.8L251.2 800.9M124.2 770.4L134.4 779.9L145.5 785.2L155.7 791.7L164.4 800.9M273.5 801.9L274.1 789.7L281.6 781.6L302.0 776.5L311.1 766.3L323.3 760.2L333.4 753.1L344.6 742.6L355.8 741.3L365.5 736.5L370.0 738.9L376.1 745.0L380.2 757.2L386.2 771.0L391.3 760.2L398.4 753.1L408.6 746.6L418.8 766.3L428.9 778.5L439.1 782.6L449.2 781.2L445.2 769.4L446.2 757.2L449.2 748.7L459.4 747.0L471.6 746.0L481.7 737.9L491.9 734.8L500.0 726.7L506.1 712.5L513.2 700.3L522.3 690.2L527.4 680.0L535.5 672.3L544.7 673.5L551.8 680.0L556.9 688.1L559.9 700.3L557.9 714.5L552.8 724.7L544.7 732.8L532.5 740.9L519.3 750.1L512.2 759.2L510.2 770.4L498.0 776.5L490.9 782.6L487.8 792.7M513.8 793.3L513.2 781.6L518.3 770.4L530.5 766.3L542.7 761.2L555.2 754.1L564.6 759.2L560.9 769.4L552.8 778.5L546.7 785.6L542.7 793.8M625.9 794.8L625.5 782.6L630.0 776.5L636.1 770.4L644.2 759.2L650.3 749.1L660.5 736.9L656.4 714.5L650.3 705.4L640.2 704.0L630.0 703.4L618.8 704.4L609.7 716.6L599.5 728.8L589.4 740.9L582.3 749.1L581.2 763.3L583.3 777.5L587.3 793.8M763.0 797.8L784.4 775.5L796.6 771.8L803.7 764.9L826.0 764.3L838.2 764.9L848.4 776.5L859.5 776.9L869.7 765.7L869.7 754.1L879.8 743.4L890.0 743.4L901.2 732.4L912.3 731.4L923.5 732.2L933.7 731.8L944.8 721.6L966.2 721.0L986.5 700.3L1008.8 699.9L1019.0 689.8L1030.2 689.8L1050.5 688.5L1060.6 690.2L1070.8 690.2L1082.6 679.6L1103.3 680.0L1114.5 669.4L1125.6 669.4M380.2 43.2L385.2 43.8L383.8 47.3L380.2 43.2ZM468.5 94.6L457.3 98.7L452.9 105.2L451.2 115.3L454.9 126.5L459.4 131.6L468.5 135.6L483.8 137.0L500.0 136.6L512.2 139.7L520.7 147.4L530.5 136.6L542.2 125.1L537.6 113.3L532.5 105.2L521.3 101.5L512.2 103.5L500.0 107.8L489.8 105.6L479.7 100.7L468.5 94.6ZM531.5 150.9L542.7 152.9L546.3 160.0L542.7 171.6L534.5 166.1L526.4 158.4L531.5 150.9ZM542.2 55.8L561.3 55.8L553.8 60.1L542.2 55.8ZM610.7 101.5L603.6 103.5L610.7 114.3L618.2 117.8L623.9 114.9L619.8 102.7L610.7 101.5ZM602.6 160.0L607.2 161.0L610.7 173.2L605.6 176.7L602.6 172.2L602.6 160.0ZM725.5 43.8L715.3 48.3L707.2 58.4L707.2 70.6L711.2 82.8L716.3 95.0L719.4 107.2L716.3 117.3L723.4 129.5L729.5 122.4L731.6 109.2L737.7 97.0L745.8 89.9L766.1 90.9L774.6 81.8L774.2 72.7L760.0 66.6L745.8 61.5L735.6 48.3L725.5 43.8ZM631.0 116.3L642.2 112.3L660.5 108.2L671.6 110.8L673.7 115.3L690.9 119.4L701.1 125.5L711.2 139.7L697.0 143.8L676.7 146.8L656.4 145.8L638.1 139.7L633.0 127.5L631.0 116.3ZM680.8 163.0L702.1 156.3L718.4 163.0L713.3 176.2L701.1 187.4L695.0 172.2L689.9 167.1L680.8 163.0ZM1033.2 78.3L1037.9 78.8L1034.2 87.9L1033.2 78.3ZM424.8 307.7L434.0 302.8L443.1 307.9L434.0 316.0L424.8 307.7ZM723.4 233.1L732.6 230.1L742.7 230.7L747.4 233.1L743.8 238.8L723.4 233.1ZM1008.8 256.5L1018.6 263.0L1007.8 268.7L1003.8 262.0L1008.8 256.5ZM1020.6 297.1L1036.2 294.1L1050.5 290.0L1056.2 298.5L1044.4 300.6L1028.1 300.6L1020.6 297.1ZM432.0 432.6L426.5 435.2L422.4 468.8L430.9 485.0L439.1 505.3L438.0 525.6L444.1 532.7L453.3 550.0L463.4 550.4L471.6 527.7L467.5 505.3L466.5 480.9L458.4 462.7L444.1 443.4L442.7 440.3L432.0 432.6ZM491.9 550.0L505.1 546.3L515.8 552.0L511.2 563.2L503.0 565.2L492.9 562.2L491.9 550.0ZM473.6 553.0L459.4 572.3L483.8 580.5L487.8 573.4L476.6 565.2L473.6 553.0ZM758.0 600.8L765.1 589.6L779.3 585.5L792.5 588.6L802.7 591.6L790.5 597.7L778.3 607.9L770.2 603.8L758.0 600.8ZM843.3 538.4L854.5 537.8L859.5 547.0L856.5 568.3L852.4 587.6L841.2 560.2L835.6 547.0L843.3 538.4ZM959.1 548.4L955.0 537.8L970.2 521.0L979.4 525.2L993.6 515.9L1002.7 513.8L1006.2 515.5L991.6 530.1L979.8 528.7L970.2 540.9L959.1 548.4ZM240.0 714.5L246.1 720.6L240.0 728.8L234.3 720.6L240.0 714.5ZM260.7 719.2L270.5 719.0L282.2 721.0L277.6 734.8L271.5 744.0L260.7 746.6L256.2 744.0L256.7 732.8L260.7 719.2ZM378.1 669.4L388.3 675.5L377.1 686.1L373.0 677.0L378.1 669.4ZM715.3 727.7L719.4 738.9L719.0 750.1L712.3 759.2L702.1 760.2L696.6 750.1L696.0 740.9L705.2 731.8L715.3 727.7ZM763.1 221.5L776.2 220.6L786.2 216.5L796.9 222.2L796.9 234.8L785.6 238.1L783.8 233.8L773.8 224.0L763.1 221.5ZM1025.6 424.8L1038.1 421.2L1046.9 417.1L1056.9 418.1L1068.1 425.6L1070.0 437.5L1066.9 460.0L1056.2 461.2L1051.9 459.4L1053.1 448.1L1028.1 436.2L1025.6 424.8ZM873.8 558.8L884.6 553.8L893.3 559.3L873.8 573.8L872.5 569.2L873.8 558.8Z"/>
<path d="M798.6 314.4L805.7 313.0L813.8 314.4L805.7 316.4L798.6 314.4ZM585.7 723.3L588.2 725.3L585.7 727.5L583.3 725.3L585.7 723.3ZM700.1 624.1L704.1 622.1L708.8 624.1L704.1 624.8L700.1 624.1ZM795.5 625.2L799.6 625.2L799.6 627.6L795.5 627.2L795.5 625.2Z" fill="#30393b" stroke-width="1"/>

</g>
<path d="M159.5 802.5v-13.5M159.5 34.5v13.5M203.5 802.5v-7.5M203.5 34.5v7.5M247.50000000000003 802.5v-13.5M247.50000000000003 34.5v13.5M291.5 802.5v-7.5M291.5 34.5v7.5M335.5 802.5v-13.5M335.5 34.5v13.5M379.50000000000006 802.5v-7.5M379.50000000000006 34.5v7.5M423.50000000000006 802.5v-13.5M423.50000000000006 34.5v13.5M467.5 802.5v-7.5M467.5 34.5v7.5M511.5 802.5v-13.5M511.5 34.5v13.5M555.5 802.5v-7.5M555.5 34.5v7.5M599.5 802.5v-13.5M599.5 34.5v13.5M643.5000000000001 802.5v-7.5M643.5000000000001 34.5v7.5M687.5 802.5v-13.5M687.5 34.5v13.5M731.5000000000001 802.5v-7.5M731.5000000000001 34.5v7.5M775.5 802.5v-13.5M775.5 34.5v13.5M819.5 802.5v-7.5M819.5 34.5v7.5M863.5000000000001 802.5v-13.5M863.5000000000001 34.5v13.5M907.5 802.5v-7.5M907.5 34.5v7.5M951.5000000000001 802.5v-13.5M951.5000000000001 34.5v13.5M995.5 802.5v-7.5M995.5 34.5v7.5M1039.5 802.5v-13.5M1039.5 34.5v13.5M1083.5 802.5v-7.5M1083.5 34.5v7.5M115.5 770.5000000000036h9M1127.5 770.5000000000036h-9M115.5 738.5000000000009h19M1127.5 738.5000000000009h-19M115.5 706.5000000000027h9M1127.5 706.5000000000027h-9M115.5 674.5h19M1127.5 674.5h-19M115.5 642.5000000000018h9M1127.5 642.5000000000018h-9M115.5 610.5000000000036h19M1127.5 610.5000000000036h-19M115.5 578.5000000000009h9M1127.5 578.5000000000009h-9M115.5 546.5000000000027h19M1127.5 546.5000000000027h-19M115.5 514.5h9M1127.5 514.5h-9M115.5 482.5000000000018h19M1127.5 482.5000000000018h-19M115.5 450.50000000000364h9M1127.5 450.50000000000364h-9M115.5 418.5000000000009h19M1127.5 418.5000000000009h-19M115.5 386.50000000000273h9M1127.5 386.50000000000273h-9M115.5 354.5h19M1127.5 354.5h-19M115.5 322.5000000000018h9M1127.5 322.5000000000018h-9M115.5 290.50000000000364h19M1127.5 290.50000000000364h-19M115.5 258.5000000000009h9M1127.5 258.5000000000009h-9M115.5 226.50000000000273h19M1127.5 226.50000000000273h-19M115.5 194.5h9M1127.5 194.5h-9M115.5 162.50000000000182h19M1127.5 162.50000000000182h-19M115.5 130.50000000000364h9M1127.5 130.50000000000364h-9M115.5 98.50000000000091h19M1127.5 98.50000000000091h-19M115.5 66.50000000000273h9M1127.5 66.50000000000273h-9" stroke="#000" stroke-width="1" fill="none"/>
<rect x="115.5" y="34.5" width="1012.0" height="768.0" fill="none" stroke="#000" stroke-width="1"/>
<g font-family="'Liberation Sans', Arial, sans-serif" font-size="24" fill="#000" opacity="0.999">
<text x="160.0" y="847" text-anchor="middle">-0.4</text>
<text x="248.0" y="847" text-anchor="middle">-0.2</text>
<text x="336.0" y="847" text-anchor="middle">0.0</text>
<text x="424.0" y="847" text-anchor="middle">0.2</text>
<text x="512.0" y="847" text-anchor="middle">0.4</text>
<text x="600.0" y="847" text-anchor="middle">0.6</text>
<text x="688.0" y="847" text-anchor="middle">0.8</text>
<text x="776.0" y="847" text-anchor="middle">1.0</text>
<text x="864.0" y="847" text-anchor="middle">1.2</text>
<text x="952.0" y="847" text-anchor="middle">1.4</text>
<text x="1040.0" y="847" text-anchor="middle">1.6</text>
<text x="1128.0" y="847" text-anchor="middle">1.8</text>
<text x="95.5" y="811.4" text-anchor="end">41.0</text>
<text x="95.5" y="747.4" text-anchor="end">41.1</text>
<text x="95.5" y="683.4" text-anchor="end">41.2</text>
<text x="95.5" y="619.4" text-anchor="end">41.3</text>
<text x="95.5" y="555.4" text-anchor="end">41.4</text>
<text x="95.5" y="491.4" text-anchor="end">41.5</text>
<text x="95.5" y="427.4" text-anchor="end">41.6</text>
<text x="95.5" y="363.4" text-anchor="end">41.7</text>
<text x="95.5" y="299.4" text-anchor="end">41.8</text>
<text x="95.5" y="235.4" text-anchor="end">41.9</text>
<text x="95.5" y="171.4" text-anchor="end">42.0</text>
<text x="95.5" y="107.4" text-anchor="end">42.1</text>
<text x="95.5" y="43.4" text-anchor="end">42.2</text>
<text x="1191.5" y="815.6">-100</text>
<text x="1191.5" y="737.8">-50</text>
<text x="1198" y="660.0">0</text>
<text x="1198" y="582.3">50</text>
<text x="1198" y="504.5">100</text>
<text x="1198" y="426.7">150</text>
<text x="1198" y="348.9">200</text>
<text x="1198" y="271.1">250</text>
<text x="1198" y="193.4">300</text>
<text x="1198" y="115.6">350</text>
<text x="1198" y="37.8">400</text>
<text x="621.2" y="890.8" font-size="27.2" text-anchor="middle">longitude (°)</text>
<text transform="translate(45.8 418.7) rotate(-90)" font-size="26.8" text-anchor="middle">latitude (°)</text>
<text transform="translate(1260 418.6) rotate(-90)" font-size="26.5" text-anchor="middle">LE (W m<tspan font-size="21" dy="-11">-2</tspan><tspan dy="11">)</tspan></text>
</g>
<rect x="1152.5" y="29.5" width="26" height="777" fill="url(#cb)" stroke="#000" stroke-width="1"/>
<path d="M1152.5 729.5h11M1178.5 729.5h-11M1152.5 651.5h11M1178.5 651.5h-11M1152.5 573.5h11M1178.5 573.5h-11M1152.5 495.5h11M1178.5 495.5h-11M1152.5 418.5h11M1178.5 418.5h-11M1152.5 340.5h11M1178.5 340.5h-11M1152.5 262.5h11M1178.5 262.5h-11M1152.5 184.5h11M1178.5 184.5h-11M1152.5 107.5h11M1178.5 107.5h-11" stroke="#000" stroke-width="1" fill="none"/>
</svg>
</body></html>
